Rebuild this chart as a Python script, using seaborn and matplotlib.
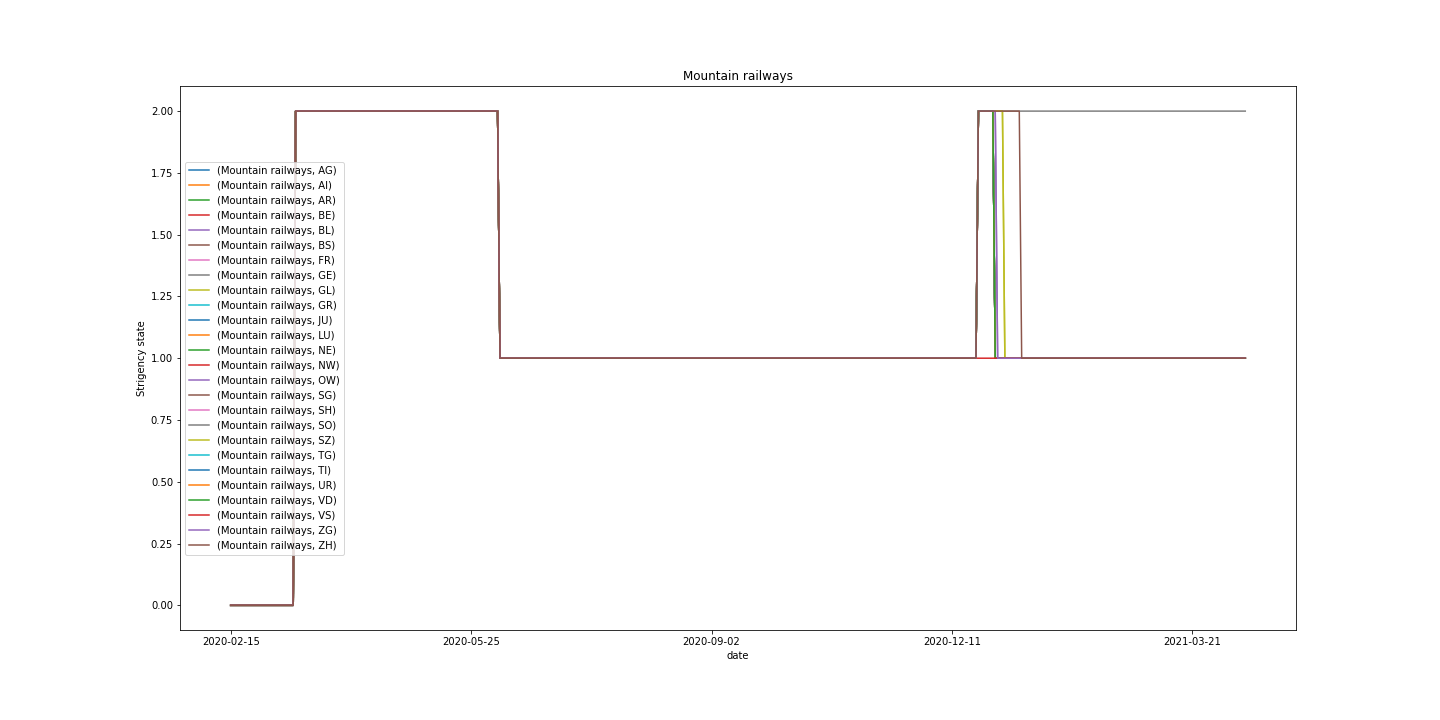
import numpy as np
import pandas as pd
import seaborn as sns
import matplotlib
matplotlib.use('Agg')
import matplotlib.pyplot as plt

cantons = ['AG', 'AI', 'AR', 'BE', 'BL', 'BS', 'FR', 'GE', 'GL', 'GR', 'JU', 'LU', 'NE',
           'NW', 'OW', 'SG', 'SH', 'SO', 'SZ', 'TG', 'TI', 'UR', 'VD', 'VS', 'ZG', 'ZH']
start_date = '2020-02-15'
end_date = '2021-04-12'

# common first wave: (date, new state)
first_wave = [('2020-02-15', 0), ('2020-03-13', 2), ('2020-06-06', 1)]
# winter: canton -> list of (date, new state)
winter = {c: [('2020-12-22', 2), ('2020-12-29', 1)] for c in cantons}
winter['BL'] = [('2020-12-22', 2), ('2020-12-30', 1)]
winter['GE'] = [('2020-12-22', 2)]
winter['SZ'] = [('2020-12-22', 2), ('2021-01-02', 1)]
winter['GL'] = [('2020-12-22', 2), ('2021-01-02', 1)]
winter['VS'] = []
winter['ZG'] = [('2020-12-22', 2), ('2020-12-30', 1)]
winter['ZH'] = [('2020-12-22', 2), ('2021-01-09', 1)]

dates = pd.date_range(start_date, end_date, freq='D')
labels = dates.strftime('%Y-%m-%d')

fig, ax = plt.subplots(figsize=(20, 10), dpi=72)
fig.subplots_adjust(left=0.125, right=0.9, top=0.88, bottom=0.125)
palette = sns.color_palette('tab10')

for i, c in enumerate(cantons):
	s = pd.Series(np.nan, index=dates)
	for d, v in first_wave + winter[c]:
		s[pd.Timestamp(d)] = v
	s = s.ffill()
	df = pd.DataFrame({'day': np.arange(len(dates)), 'state': s.values})
	sns.lineplot(data=df, x='day', y='state', color=palette[i % 10], ax=ax,
	             label='(Mountain railways, %s)' % c)

ticks = np.arange(0, len(dates), 100)
ax.set_xticks(ticks)
ax.set_xticklabels(labels[ticks])
ax.set_xlabel('date')
ax.set_ylabel('Strigency state')
ax.set_title('Mountain railways')
ax.legend(loc='center left')
fig.savefig('out.png', dpi=72)
